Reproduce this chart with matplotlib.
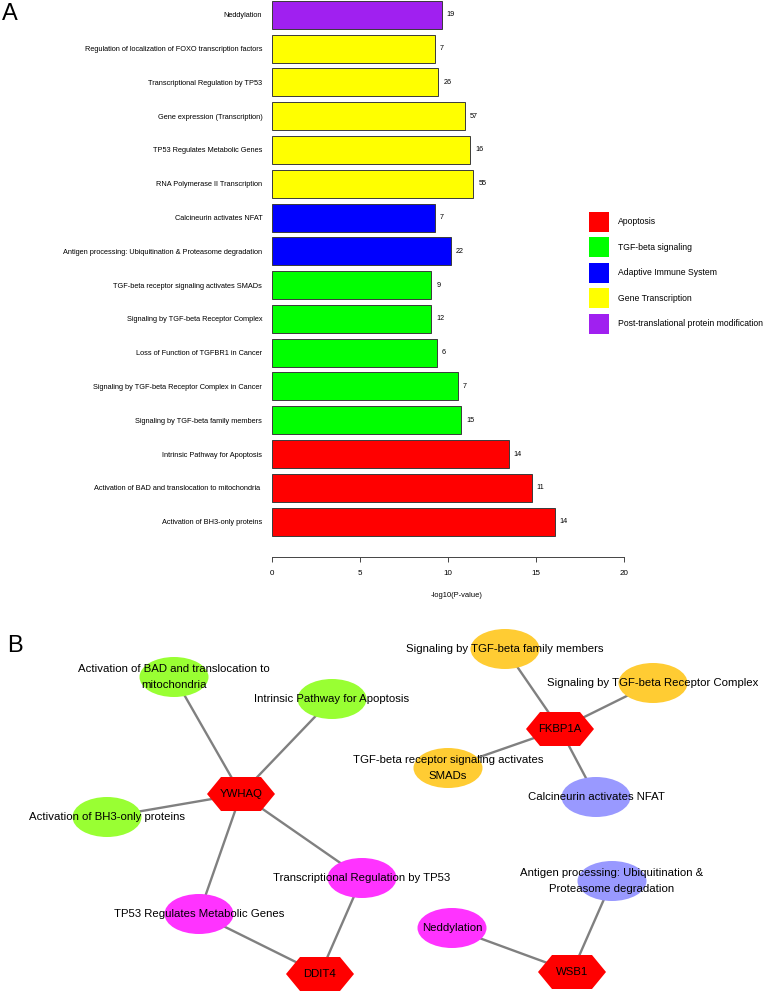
import matplotlib
matplotlib.use('Agg')
import matplotlib.pyplot as plt
from matplotlib.patches import Ellipse, Polygon

plt.rcParams['font.family'] = ['Liberation Sans', 'DejaVu Sans']

# ---- panel A data (bottom bar first) ----
pathways = [
    'Activation of BH3-only proteins',
    'Activation of BAD and translocation to mitochondria ',
    'Intrinsic Pathway for Apoptosis',
    'Signaling by TGF-beta family members',
    'Signaling by TGF-beta Receptor Complex in Cancer',
    'Loss of Function of TGFBR1 in Cancer',
    'Signaling by TGF-beta Receptor Complex',
    'TGF-beta receptor signaling activates SMADs',
    'Antigen processing: Ubiquitination & Proteasome degradation',
    'Calcineurin activates NFAT',
    'RNA Polymerase II Transcription',
    'TP53 Regulates Metabolic Genes',
    'Gene expression (Transcription)',
    'Transcriptional Regulation by TP53',
    'Regulation of localization of FOXO transcription factors',
    'Neddylation',
]
neg_log_p = [16.05, 14.74, 13.43, 10.74, 10.53, 9.34, 9.03, 9.03,
             10.13, 9.23, 11.42, 11.23, 10.93, 9.43, 9.23, 9.62]
gene_counts = [14, 11, 14, 15, 7, 6, 12, 9, 22, 7, 55, 16, 57, 26, 7, 19]
pathway_group = ['Apoptosis'] * 3 + ['TGF-beta signaling'] * 5 + \
    ['Adaptive Immune System'] * 2 + ['Gene Transcription'] * 5 + \
    ['Post-translational protein modification']

groups = ['Apoptosis', 'TGF-beta signaling', 'Adaptive Immune System',
          'Gene Transcription', 'Post-translational protein modification']
group_colors = ['#FF0000', '#00FF00', '#0000FF', '#FFFF00', '#A020F0']

# ---- panel B data ----
genes = ['YWHAQ', 'FKBP1A', 'DDIT4', 'WSB1']
terms = [
    ('Activation of BAD and translocation to\nmitochondria', '#99FF33'),
    ('Intrinsic Pathway for Apoptosis', '#99FF33'),
    ('Activation of BH3-only proteins', '#99FF33'),
    ('TP53 Regulates Metabolic Genes', '#FF33FF'),
    ('Transcriptional Regulation by TP53', '#FF33FF'),
    ('Signaling by TGF-beta family members', '#FFCC33'),
    ('Signaling by TGF-beta Receptor Complex', '#FFCC33'),
    ('TGF-beta receptor signaling activates\nSMADs', '#FFCC33'),
    ('Calcineurin activates NFAT', '#9999FF'),
    ('Antigen processing: Ubiquitination &\nProteasome degradation', '#9999FF'),
    ('Neddylation', '#FF33FF'),
]
edges = [
    ('YWHAQ', 0), ('YWHAQ', 1), ('YWHAQ', 2), ('YWHAQ', 3), ('YWHAQ', 4),
    ('DDIT4', 3), ('DDIT4', 4),
    ('FKBP1A', 5), ('FKBP1A', 6), ('FKBP1A', 7), ('FKBP1A', 8),
    ('WSB1', 9), ('WSB1', 10),
]

# network layout (pixel positions of the drawing)
gene_pos = {'YWHAQ': (241, 794), 'FKBP1A': (560, 729),
            'DDIT4': (320, 974), 'WSB1': (572, 972)}
term_pos = [(174, 677), (332, 699), (107, 817), (199, 914), (362, 878),
            (505, 649), (653, 683), (448, 768), (596, 797), (612, 881),
            (452, 928)]

W, H = 766, 992
fig = plt.figure(figsize=(W / 100, H / 100), dpi=100)

# ---------- panel A ----------
ax = fig.add_axes([272.3 / W, 1 - 556.7 / H, 369.6 / W, 556.7 / H])
ypos = list(range(len(pathways)))
cols = [group_colors[groups.index(g)] for g in pathway_group]
ax.barh(ypos, neg_log_p, height=0.83, color=cols, edgecolor='#3a3a3a',
        linewidth=0.7)
for y, v, n in zip(ypos, neg_log_p, gene_counts):
    ax.annotate(str(n), (v, y), xytext=(3.6, 0), textcoords='offset points',
                ha='left', va='center', fontsize=5.2)
ax.set_xlim(0, 21)
ax.set_ylim(-1.04, 15.44)
ax.set_yticks(ypos)
ax.set_yticklabels(pathways, fontsize=5.3)
ax.tick_params(axis='y', length=0, pad=7.2)
ax.set_xticks([0, 5, 10, 15, 20])
ax.tick_params(axis='x', labelsize=5.8, length=3.6, width=0.7,
               color='#444444', pad=6)
for s in ['left', 'right', 'top']:
    ax.spines[s].set_visible(False)
ax.spines['bottom'].set_bounds(0, 20)
ax.spines['bottom'].set_linewidth(0.7)
ax.spines['bottom'].set_color('#444444')
ax.set_xlabel('-log10(P-value)', fontsize=5.4)
ax.xaxis.set_label_coords(10.5 / 21, -0.064)

# legend
for i, (g, c) in enumerate(zip(groups, group_colors)):
    yc = 222 + i * 25.4
    fig.patches.append(plt.Rectangle((589 / W, 1 - (yc + 10) / H), 20 / W,
                                     20 / H, transform=fig.transFigure,
                                     facecolor=c, edgecolor='none'))
    fig.text(618 / W, 1 - yc / H, g, fontsize=6.25, va='center', ha='left')

fig.text(2 / W, 1 - 14 / H, 'A', fontsize=17, va='center', ha='left')
fig.text(7 / W, 1 - 646 / H, 'B', fontsize=17, va='center', ha='left')

# ---------- panel B ----------
nx = fig.add_axes([0, 0, 1, 1], zorder=-1)
nx.set_xlim(0, W)
nx.set_ylim(H, 0)
nx.axis('off')

for g, t in edges:
    x0, y0 = gene_pos[g]
    x1, y1 = term_pos[t]
    nx.plot([x0, x1], [y0, y1], color='#808080', lw=1.7, zorder=1,
            solid_capstyle='butt')

for (label, c), (x, y) in zip(terms, term_pos):
    nx.add_patch(Ellipse((x, y), 69, 40, facecolor=c, edgecolor='none',
                         zorder=2))
    nx.text(x, y, label, ha='center', va='center', fontsize=8.2,
            linespacing=1.75, zorder=4)

for g in genes:
    x, y = gene_pos[g]
    hexa = [(x - 34, y), (x - 20, y - 17), (x + 20, y - 17), (x + 34, y),
            (x + 20, y + 17), (x - 20, y + 17)]
    nx.add_patch(Polygon(hexa, closed=True, facecolor='#FF0000',
                         edgecolor='none', zorder=3))
    nx.text(x, y, g, ha='center', va='center', fontsize=8.2, zorder=4)

fig.savefig('out.png', dpi=100)
